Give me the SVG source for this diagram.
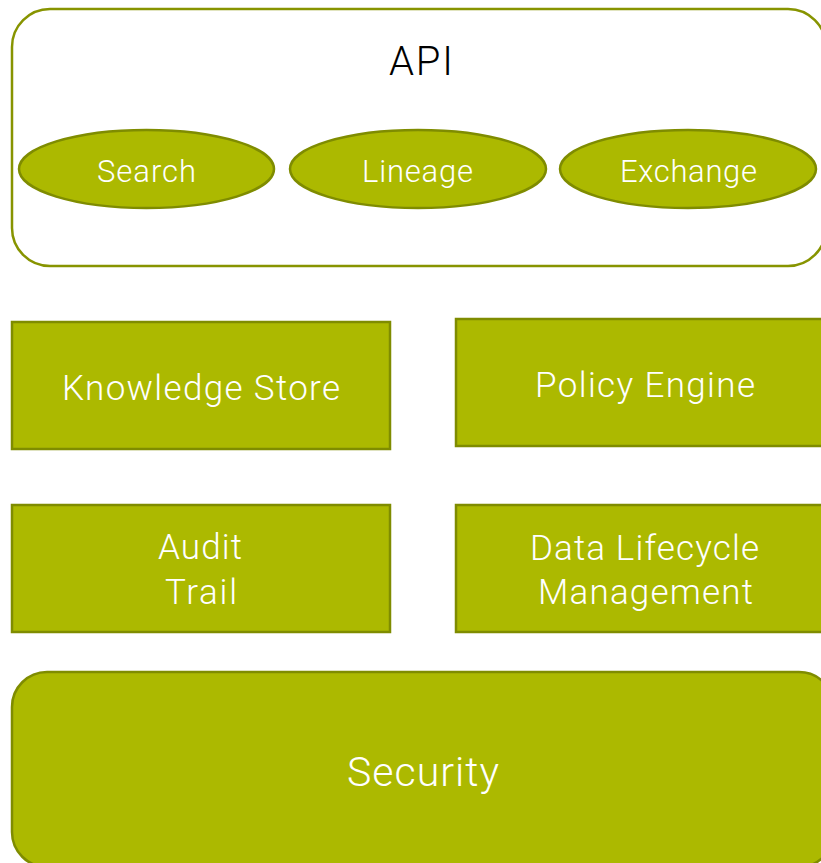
<svg xmlns="http://www.w3.org/2000/svg" width="821" height="863" viewBox="0 0 821 863">
<style>
.box{fill:#acb900;stroke:#7f8c00;stroke-width:2.5}
.frame{fill:#ffffff;stroke:#879400;stroke-width:2.5}
.t{fill:#ffffff;font-family:Roboto,"Open Sans","DejaVu Sans",sans-serif;font-weight:300;text-anchor:middle}
.tb{fill:#000000;font-family:Roboto,"Open Sans","DejaVu Sans",sans-serif;font-weight:300;text-anchor:middle}
</style>
<g id="api">
<rect class="frame" x="12" y="9" width="814" height="257" rx="38" ry="38"/>
<text class="tb" x="421" y="75" font-size="40" textLength="64" lengthAdjust="spacing">API</text>
</g>
<g id="search">
<ellipse class="box" cx="146.5" cy="169" rx="127.5" ry="39"/>
<text class="t" x="146.5" y="182" font-size="31" textLength="99" lengthAdjust="spacing">Search</text>
</g>
<g id="lineage">
<ellipse class="box" cx="418" cy="169" rx="128" ry="39"/>
<text class="t" x="417.5" y="182" font-size="31" textLength="111" lengthAdjust="spacing">Lineage</text>
</g>
<g id="exchange">
<ellipse class="box" cx="688" cy="169" rx="128" ry="39"/>
<text class="t" x="688.5" y="182" font-size="31" textLength="137" lengthAdjust="spacing">Exchange</text>
</g>
<g id="knowledge-store">
<rect class="box" x="12" y="322" width="378" height="127"/>
<text class="t" x="201" y="400" font-size="35" textLength="278" lengthAdjust="spacing">Knowledge Store</text>
</g>
<g id="policy-engine">
<rect class="box" x="456" y="319" width="380" height="127"/>
<text class="t" x="645" y="397" font-size="35" textLength="220" lengthAdjust="spacing">Policy Engine</text>
</g>
<g id="audit-trail">
<rect class="box" x="12" y="505" width="378" height="127"/>
<text class="t" x="200" y="559" font-size="35" textLength="84" lengthAdjust="spacing">Audit</text>
<text class="t" x="201" y="604" font-size="35" textLength="72" lengthAdjust="spacing">Trail</text>
</g>
<g id="data-lifecycle">
<rect class="box" x="456" y="505" width="380" height="127"/>
<text class="t" x="644.5" y="560" font-size="35" textLength="229" lengthAdjust="spacing">Data Lifecycle</text>
<text class="t" x="645.5" y="604" font-size="35" textLength="215" lengthAdjust="spacing">Management</text>
</g>
<g id="security">
<rect class="box" x="12" y="672" width="822" height="195" rx="35" ry="35"/>
<text class="t" x="423" y="786" font-size="41" textLength="152" lengthAdjust="spacing">Security</text>
</g>
<g id="connectors"></g>
</svg>
